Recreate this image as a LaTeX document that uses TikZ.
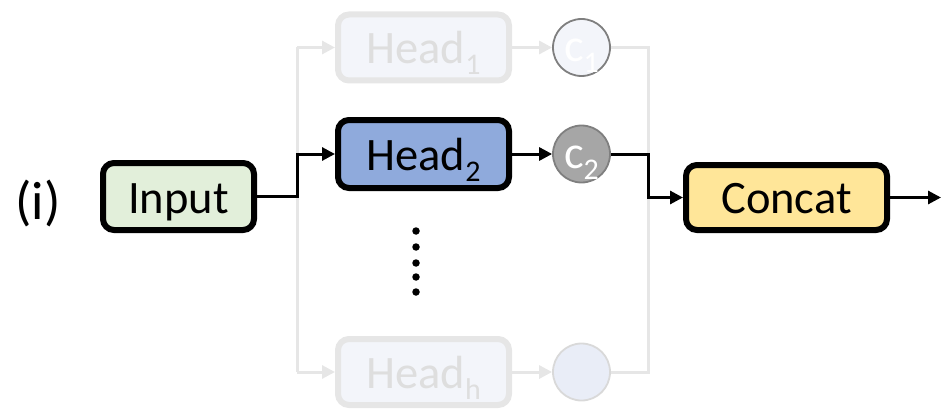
\documentclass[tikz,border=0pt]{standalone}
\usepackage{fontspec}
\setmainfont{Carlito}
\usetikzlibrary{arrows.meta}
\definecolor{ingreen}{HTML}{E2EFDA}
\definecolor{headblue}{HTML}{8FAADC}
\definecolor{catyellow}{HTML}{FFE699}
\definecolor{cgray}{HTML}{A6A6A6}
\definecolor{cborder}{HTML}{7F7F7F}
\definecolor{faintline}{HTML}{E6E6E6}
\definecolor{faintfill}{HTML}{F3F5FA}
\definecolor{fainttext}{HTML}{DEDEDE}
\definecolor{hcirc}{HTML}{E9EDF7}
\definecolor{hcircb}{HTML}{D9D9D9}
\newcommand{\subtxt}[1]{\raisebox{-11pt}[0pt][0pt]{\fontsize{30}{30}\selectfont #1}}
\tikzset{
  bigfont/.style={font=\fontsize{46.5}{50}\selectfont},
  blockbox/.style={draw=black, line width=6pt, rounded corners=11pt, bigfont, inner sep=0pt, text height=33pt, text depth=0pt},
  faintbox/.style={draw=faintline, line width=6pt, rounded corners=11pt, bigfont, inner sep=0pt, fill=faintfill, text=fainttext, text height=33pt, text depth=0pt},
  cnode/.style={circle, minimum size=57pt, inner sep=0pt, line width=1.8pt, bigfont, text height=28pt, text depth=0pt},
  blackarrow/.style={line width=3pt, -{Triangle[length=13pt,width=13pt]}},
  blackline/.style={line width=3pt},
  faintarrow/.style={line width=3pt, draw=faintline, -{Triangle[length=13pt,width=13pt]}},
  faintpath/.style={line width=3pt, draw=faintline},
  dot/.style={circle, fill=black, inner sep=0pt, minimum size=7.5pt}
}
\begin{document}
\begin{tikzpicture}[x=1pt,y=-1pt]
\useasboundingbox (0,0) rectangle (941,409);
% junction coordinates
\coordinate (jl) at (297,200);
\coordinate (jr) at (648,200);
% nodes
\node[font=\fontsize{54}{58}\selectfont, inner sep=0pt] (lab) at (38,203.5) {(i)};
\node[blockbox, fill=ingreen, minimum width=151pt, minimum height=67pt] (inp) at (178.5,196.5) {Input};
\node[faintbox, minimum width=171pt, minimum height=66pt] (h1) at (423.5,47.5) {Head\subtxt{1}};
\node[blockbox, fill=headblue, minimum width=171pt, minimum height=68pt] (h2) at (423.5,154) {Head\subtxt{2}};
\node[faintbox, minimum width=171pt, minimum height=66pt] (hh) at (423.5,372) {Head\subtxt{h}};
\node[cnode, draw=cborder, fill=faintfill, text=white] (c1) at (581.5,47.5) {c\subtxt{1}};
\node[cnode, draw=cborder, fill=cgray, text=white] (c2) at (581.5,154) {c\subtxt{2}};
\node[cnode, draw=hcircb, fill=hcirc] (ch) at (581.5,372) {};
\node[blockbox, fill=catyellow, minimum width=201pt, minimum height=65pt, text height=31pt] (cc) at (786.5,197.5) {Concat};
\coordinate (out) at (941,197.5);
% dots
\foreach \yy/\nm in {231/d1,247/d2,263/d3,277/d4,292/d5}
  \node[dot] (\nm) at (416,\yy) {};
% faint connectors
\draw[faintpath] (h1.west -| jl) -- (hh.west -| jl);
\draw[faintarrow] (h1.west -| jl) -- (h1.west);
\draw[faintarrow] (hh.west -| jl) -- (hh.west);
\draw[faintarrow] (h1.east) -- (c1.west);
\draw[faintarrow] (hh.east) -- (ch.west);
\draw[faintpath] (c1.east) -| (jr) |- (ch.east);
% black connectors
\draw[blackarrow] (inp.east) -- (inp.east -| jl) |- (h2.west);
\draw[blackarrow] (h2.east) -- (c2.west);
\draw[blackarrow] (c2.east) -- (c2.east -| jr) |- (cc.west);
\draw[blackarrow] (cc.east) -- (out);
\end{tikzpicture}
\end{document}
